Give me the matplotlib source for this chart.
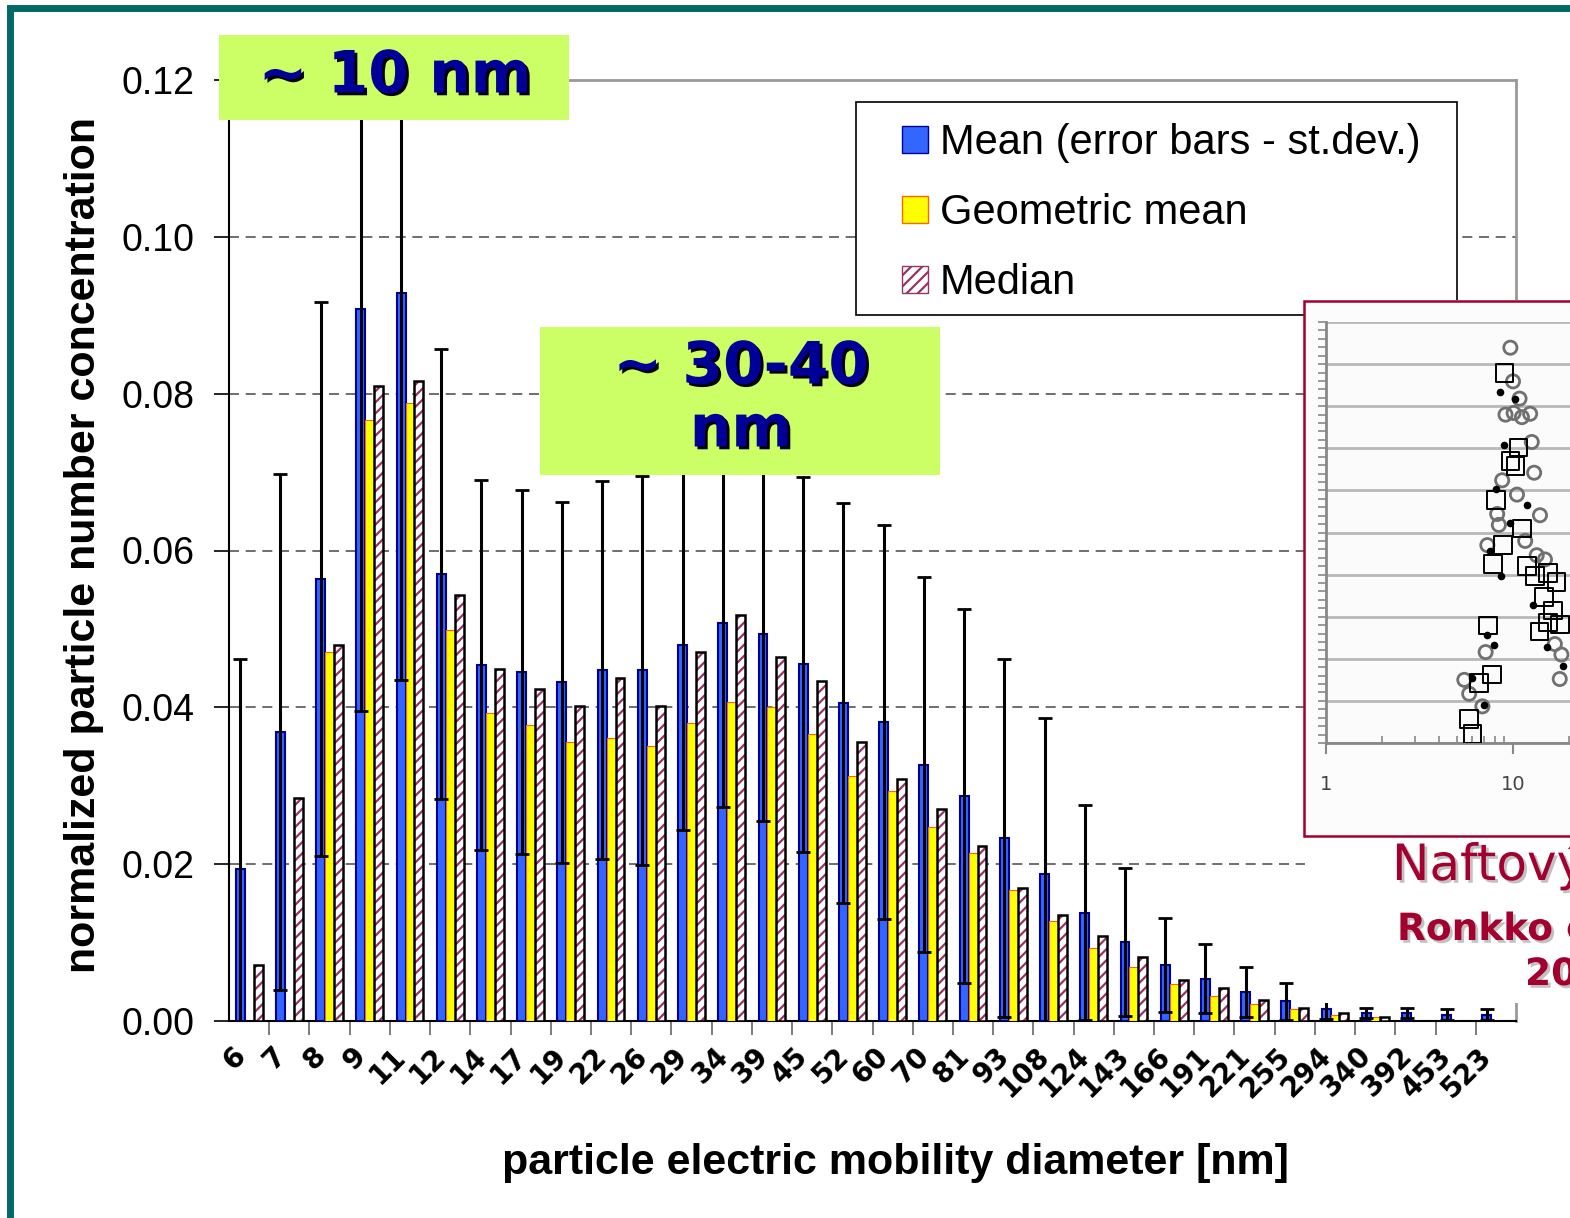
import numpy as np
import matplotlib
matplotlib.use('Agg')
import matplotlib.pyplot as plt
import matplotlib.patheffects as pe
from matplotlib.patches import Rectangle, Patch
from matplotlib.ticker import FixedLocator, NullFormatter, LogLocator

# particle size classes (nm) and normalized concentrations
sizes = ['6', '7', '8', '9', '11', '12', '14', '17', '19', '22', '26', '29', '34', '39', '45', '52',
         '60', '70', '81', '93', '108', '124', '143', '166', '191', '221', '255', '294', '340', '392',
         '453', '523']
mean = [0.0194, 0.0368, 0.0564, 0.0908, 0.0928, 0.0570, 0.0454, 0.0445, 0.0432, 0.0447, 0.0447,
        0.0479, 0.0508, 0.0494, 0.0455, 0.0405, 0.0381, 0.0327, 0.0287, 0.0233, 0.0187, 0.0138,
        0.0101, 0.0071, 0.0054, 0.0037, 0.0025, 0.0015, 0.0010, 0.0010, 0.0008, 0.0008]
geo_mean = [0.0, 0.0, 0.0471, 0.0766, 0.0788, 0.0499, 0.0393, 0.0378, 0.0356, 0.0361, 0.0351,
            0.0380, 0.0407, 0.0400, 0.0366, 0.0312, 0.0293, 0.0248, 0.0214, 0.0167, 0.0128, 0.0093,
            0.0069, 0.0047, 0.0032, 0.0022, 0.0015, 0.0008, 0.0005, 0.0, 0.0, 0.0]
median = [0.0071, 0.0285, 0.0479, 0.0810, 0.0816, 0.0543, 0.0449, 0.0423, 0.0402, 0.0437, 0.0402,
          0.0471, 0.0518, 0.0464, 0.0433, 0.0356, 0.0309, 0.0270, 0.0223, 0.0169, 0.0135, 0.0108,
          0.0081, 0.0052, 0.0042, 0.0027, 0.0017, 0.0010, 0.0005, 0.0, 0.0, 0.0]
std_dev = [0.0267, 0.0329, 0.0353, 0.0513, 0.0493, 0.0287, 0.0236, 0.0232, 0.0230, 0.0241, 0.0248,
           0.0236, 0.0235, 0.0239, 0.0239, 0.0255, 0.0251, 0.0239, 0.0238, 0.0228, 0.0200, 0.0137,
           0.0094, 0.0060, 0.0044, 0.0032, 0.0024, 0.0013, 0.0006, 0.0006, 0.0007, 0.0007]
y_ticks = [0.00, 0.02, 0.04, 0.06, 0.08, 0.10, 0.12]

# inset (Ronkko et al.) scatter, x in nm (log), y in inset grid units
circ_x = [9.68, 10.0, 10.84, 9.12, 10.08, 11.16, 12.35, 12.60, 12.97, 8.75, 10.50, 13.94, 8.23,
          8.40, 11.62, 13.39, 14.82, 7.29, 7.14, 5.49, 5.83, 6.86, 17.78, 16.74, 18.15]
circ_y = [9.39, 8.59, 8.18, 7.80, 7.84, 7.74, 7.82, 7.15, 6.42, 6.24, 5.90, 5.41, 5.44,
          5.18, 4.80, 4.46, 4.36, 4.70, 2.16, 1.50, 1.17, 0.87, 1.52, 2.35, 2.10]
sq_x = [9.00, 10.72, 9.68, 10.29, 8.13, 11.16, 8.86, 7.81, 11.86, 13.12, 15.43, 17.07, 14.64,
        16.39, 13.83, 15.43, 17.78, 7.35, 7.74, 6.59, 5.83, 6.07]
sq_y = [8.79, 7.02, 6.70, 6.58, 5.77, 5.10, 4.70, 4.25, 4.21, 3.96, 4.04, 3.83, 3.47,
        3.15, 2.65, 2.86, 2.81, 2.79, 1.63, 1.42, 0.57, 0.22]
dot_x = [8.57, 10.29, 8.93, 8.07, 11.86, 9.68, 7.53, 8.64, 12.86, 7.29, 7.96, 6.07, 7.0, 15.12, 18.53]
dot_y = [8.33, 8.18, 7.07, 6.03, 5.65, 5.22, 4.55, 3.96, 3.28, 2.56, 2.32, 1.55, 0.91, 2.27, 1.84]

W, H = 1570, 1218


def fx(px):
    return px / W


def fy(py):
    return 1 - py / H


plt.rcParams['font.family'] = ['Liberation Sans', 'DejaVu Sans']
plt.rcParams['hatch.linewidth'] = 1.6

fig = plt.figure(figsize=(15.7, 12.18), dpi=100)
ax = fig.add_axes([fx(229), fy(1021), fx(1516) - fx(229), fy(80) - fy(1021)])

x = np.arange(len(sizes))
w = 0.222
ax.bar(x - w, mean, w, color='#3366ff', edgecolor='#000099', linewidth=1.5, zorder=3)
ax.bar(x, geo_mean, w, color='#ffff00', edgecolor='#ff6600', linewidth=0.8, zorder=3)
ax.bar(x + w, median, w, color='white', edgecolor='#993366', hatch='///', linewidth=0, zorder=3)
ax.bar(x + w, median, w, fill=False, edgecolor='black', linewidth=1.8, zorder=3)
ax.errorbar(x - w, mean, yerr=std_dev, fmt='none', ecolor='black', elinewidth=2.2,
            capsize=5, capthick=2, zorder=4)

ax.set_xlim(-0.5, len(sizes) - 0.5)
ax.set_ylim(0, 0.12)
ax.set_yticks(y_ticks)
ax.set_yticklabels([f'{v:.2f}' for v in y_ticks], fontsize=27)
ax.tick_params(axis='y', length=11, width=1.2, pad=14)
# labels sit a little left of the category centre, as in the original
ax.set_xticks(x - 0.45)
ax.set_xticklabels(sizes, rotation=45, ha='right', va='top', rotation_mode='anchor',
                   fontsize=20, fontweight='bold', family='DejaVu Sans')
ax.tick_params(axis='x', which='major', length=0, pad=15)
ax.xaxis.set_minor_locator(FixedLocator(x[:-1] + 0.5))
ax.tick_params(axis='x', which='minor', length=10, width=1.2, color='#666666')
ax.yaxis.grid(True, linestyle=(0, (6, 4)), color='#555555', linewidth=1.2)
ax.set_axisbelow(True)
for s in ['left', 'bottom']:
    ax.spines[s].set_linewidth(1.5)
for s in ['top', 'right']:
    ax.spines[s].set_color('#999999')
    ax.spines[s].set_linewidth(2)

ax.set_ylabel('normalized particle number concentration', fontsize=31, fontweight='bold')
ax.yaxis.set_label_coords(-(229 - 104) / 1287, (1021 - 545) / 941)
ax.set_xlabel('particle electric mobility diameter [nm]', fontsize=31, fontweight='bold')
ax.xaxis.set_label_coords((895 - 229) / 1287, -(1143 - 1021) / 941)

# legend: frame drawn at its place, entries placed inside
ax.add_patch(Rectangle((fx(856), fy(315)), fx(1457) - fx(856), fy(102) - fy(315),
                       transform=fig.transFigure, facecolor='white', edgecolor='black',
                       linewidth=1.2, zorder=4.9, clip_on=False))
handles = [Patch(facecolor='#3366ff', edgecolor='#000099'),
           Patch(facecolor='#ffff00', edgecolor='#ff6600'),
           Patch(facecolor='white', edgecolor='#993366', hatch='///')]
leg = ax.legend(handles, ['Mean (error bars - st.dev.)', 'Geometric mean', 'Median'],
                loc='upper left', bbox_to_anchor=(fx(902), fy(123)), bbox_transform=fig.transFigure,
                frameon=False, borderaxespad=0, borderpad=0, fontsize=30,
                handlelength=0.62, handleheight=0.62, handletextpad=0.28, labelspacing=0.72)

# slide frame
fig.add_artist(Rectangle((fx(10), fy(1300)), fx(1700) - fx(10), fy(8) - fy(1300),
                         transform=fig.transFigure, fill=False, edgecolor='#006b66',
                         linewidth=5, zorder=20))

# annotation boxes
shadow = [pe.withSimplePatchShadow(offset=(2, -2), shadow_rgbFace='black', alpha=1)]
fig.add_artist(Rectangle((fx(219), fy(120)), fx(569) - fx(219), fy(35) - fy(120),
                         transform=fig.transFigure, facecolor='#ccff66', edgecolor='none', zorder=6))
fig.text(fx(395), fy(76), '~ 10 nm', ha='center', va='center', fontsize=42, fontweight='bold',
         family='DejaVu Sans', color='#000099', path_effects=shadow, zorder=7)
fig.add_artist(Rectangle((fx(540), fy(475)), fx(940) - fx(540), fy(327) - fy(475),
                         transform=fig.transFigure, facecolor='#ccff66', edgecolor='none', zorder=6))
fig.text(fx(741), fy(367), '~ 30-40', ha='center', va='center', fontsize=42, fontweight='bold',
         family='DejaVu Sans', color='#000099', path_effects=shadow, zorder=7)
fig.text(fx(741), fy(430), 'nm', ha='center', va='center', fontsize=42, fontweight='bold',
         family='DejaVu Sans', color='#000099', path_effects=shadow, zorder=7)

# inset picture
fig.add_artist(Rectangle((fx(1305), fy(1003)), fx(1700) - fx(1305), fy(300) - fy(1003),
                         transform=fig.transFigure, facecolor='white', edgecolor='none', zorder=8))
fig.add_artist(Rectangle((fx(1304), fy(836)), fx(1700) - fx(1304), fy(301) - fy(836),
                         transform=fig.transFigure, facecolor='#fcfcfc', edgecolor='#a3002f',
                         linewidth=1.8, zorder=8.5))
iax = fig.add_axes([fx(1326), fy(743), 561 / W, (743 - 322) / H])
iax.set_zorder(9)
iax.set_facecolor('#fbfbfb')
iax.set_xscale('log')
iax.set_xlim(1, 1000)
iax.set_ylim(0, 10)
iax.scatter(circ_x, circ_y, s=90, facecolors='none', edgecolors='#707070', linewidths=2, zorder=3)
iax.scatter(sq_x, sq_y, s=160, marker='s', facecolors='none', edgecolors='black', linewidths=1.4,
            zorder=3)
iax.scatter(dot_x, dot_y, s=20, color='black', zorder=3)
iax.set_yticks(np.arange(0, 11, 1))
iax.yaxis.set_minor_locator(FixedLocator(np.arange(0, 10.01, 0.2)))
iax.yaxis.set_major_formatter(NullFormatter())
iax.tick_params(axis='y', which='both', length=6, color='#888888', width=1.2)
iax.yaxis.grid(True, color='#b8b8b8', linewidth=2)
iax.set_xticks([1, 10])
iax.set_xticklabels(['1', '10'], fontsize=14, color='#444444', family='DejaVu Sans')
iax.xaxis.set_minor_locator(LogLocator(base=10, subs=np.arange(2, 10)))
iax.xaxis.set_minor_formatter(NullFormatter())
iax.tick_params(axis='x', which='major', length=8, color='#888888', width=1.5, pad=15)
iax.tick_params(axis='x', which='minor', direction='in', length=5, color='#888888', width=1.2)
for s in ['left', 'bottom']:
    iax.spines[s].set_color('#888888')
    iax.spines[s].set_linewidth(2)
for s in ['top', 'right']:
    iax.spines[s].set_visible(False)

# reference text next to inset (cut by the slide edge as in the original)
red_shadow = [pe.withSimplePatchShadow(offset=(2, -2), shadow_rgbFace='#999999', alpha=0.6)]
fig.text(fx(1392), fy(880), 'Naftový', ha='left', va='baseline', fontsize=36,
         family='DejaVu Sans', color='#a3002f', path_effects=red_shadow, zorder=10)
fig.text(fx(1397), fy(940), 'Ronkko et al.', ha='left', va='baseline', fontsize=27,
         fontweight='bold', family='DejaVu Sans', color='#a3002f', path_effects=red_shadow, zorder=10)
fig.text(fx(1525), fy(985), '2007', ha='left', va='baseline', fontsize=27, fontweight='bold',
         family='DejaVu Sans', color='#a3002f', path_effects=red_shadow, zorder=10)

fig.savefig('out.png', dpi=100)
